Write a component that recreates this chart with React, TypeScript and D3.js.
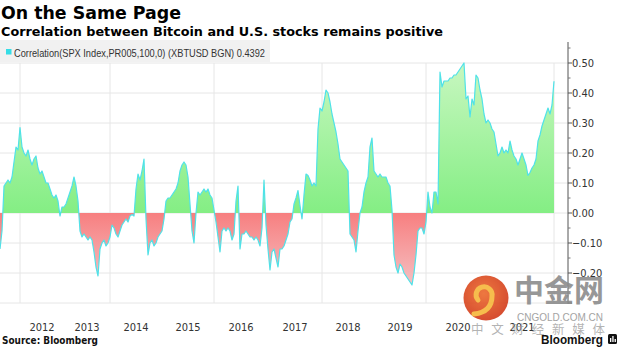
import React from "react";
import * as d3 from "d3";

// 100-day correlation, sampled evenly along the (trading-index based) x axis, grouped by calendar year
const corr2011 = [-0.12, -0.06, 0.09, 0.1, 0.11, 0.1, 0.12, 0.17, 0.22, 0.21];
const corr2012 = [0.285, 0.22, 0.2, 0.19, 0.21, 0.18, 0.16, 0.18, 0.19, 0.15, 0.13, 0.14, 0.12, 0.1, 0.1, 0.08, 0.06, 0.05, 0.06, 0.04, -0.01, 0.02];
const corr2013 = [0.02, 0.03, 0.05, 0.07, 0.09, 0.12, 0.09, 0.04, -0.06, -0.08, -0.07, -0.08, -0.09, -0.08, -0.09, -0.13, -0.18, -0.21, -0.12, -0.1, -0.09, -0.11, -0.1];
const corr2014 = [-0.08, -0.04, -0.05, -0.07, -0.08, -0.06, -0.04, -0.03, -0.02, -0.03, -0.01, -0.005, -0.01, 0.08, 0.13, 0.11, 0.14, 0.18, -0.02, -0.14, -0.1, -0.09, -0.11, -0.1, -0.08, -0.07];
const corr2015 = [-0.06, -0.02, 0.04, 0.05, 0.05, 0.06, 0.07, 0.08, 0.1, 0.14, 0.16, 0.17, 0.16, 0.12, 0.03, -0.06, -0.1, 0.0, 0.07, 0.06, 0.07, 0.08, 0.07, 0.08, 0.06, 0.05];
const corr2016 = [0.01, -0.03, -0.08, -0.13, -0.06, -0.05, -0.06, -0.05, -0.06, -0.09, -0.07, 0.04, 0.09, -0.12, -0.07, -0.07, -0.06, -0.07, -0.08, -0.08, -0.09, -0.08, -0.09, -0.11, -0.05, 0.11, -0.04];
const corr2017 = [-0.12, -0.19, -0.13, -0.12, -0.15, -0.18, -0.12, -0.12, -0.11, -0.09, -0.07, -0.03, -0.02, 0.03, 0.05, 0.075, 0.025, -0.02, 0.06, 0.13, 0.125, 0.11, 0.09, 0.1, 0.09, 0.28, 0.35];
const corr2018 = [0.34, 0.37, 0.41, 0.4, 0.37, 0.33, 0.3, 0.27, 0.23, 0.18, 0.17, 0.16, 0.15, 0.14, -0.07, -0.08, -0.09, -0.13, -0.06, 0.0, 0.02, 0.07, 0.1, 0.12, 0.22, 0.25];
const corr2019 = [0.14, 0.13, 0.12, 0.13, 0.12, 0.12, 0.12, 0.1, 0.09, 0.01, -0.14, -0.18, -0.2, -0.17, -0.18, -0.2, -0.21, -0.22, -0.23, -0.24, -0.2, -0.14, -0.06, -0.05, -0.05, -0.07];
const corr2020 = [-0.03, 0.07, 0.02, 0.0, 0.07, 0.07, 0.03, 0.47, 0.42, 0.44, 0.44, 0.44, 0.45, 0.45, 0.46, 0.46, 0.47, 0.48, 0.49, 0.5, 0.38, 0.39, 0.32, 0.38, 0.36, 0.46, 0.45, 0.41, 0.38, 0.33, 0.3, 0.31];
const corr2021 = [0.3, 0.28, 0.27, 0.23, 0.19, 0.2, 0.22, 0.2, 0.21, 0.2, 0.24, 0.21, 0.19, 0.18, 0.16, 0.18, 0.2, 0.18, 0.16, 0.125, 0.135, 0.15, 0.16, 0.18, 0.24, 0.26, 0.29, 0.31, 0.33, 0.35, 0.33, 0.36, 0.4392];

const yearSeries = [corr2011, corr2012, corr2013, corr2014, corr2015, corr2016, corr2017, corr2018, corr2019, corr2020, corr2021];
const seriesYears = [2011, 2012, 2013, 2014, 2015, 2016, 2017, 2018, 2019, 2020, 2021];
const labelYears = ["2012", "2013", "2014", "2015", "2016", "2017", "2018", "2019", "2020", "2021"];
const gridYears = [2012, 2014, 2016, 2018, 2020, 2022];
const yTickValues = [-0.3, -0.2, -0.1, 0.0, 0.1, 0.2, 0.3, 0.4, 0.5];
const yLabelValues = [-0.2, -0.1, 0.0, 0.1, 0.2, 0.3, 0.4, 0.5];
const yMinorValues = [-0.25, -0.15, -0.05, 0.05, 0.15, 0.25, 0.35, 0.45, 0.55];

const title = "On the Same Page";
const subtitle = "Correlation between Bitcoin and U.S. stocks remains positive";
const legendText = "Correlation(SPX Index,PR005,100,0) (XBTUSD BGN) 0.4392";
const sourceText = "Source: Bloomberg";

const W = 620;
const H = 348;
const PLOT_RIGHT = 568;
const AXIS_FONT = "'DejaVu Sans Condensed', 'Liberation Sans', sans-serif";
const BOLD_FONT = "'DejaVu Sans', Verdana, sans-serif";

export default function App() {
  const data: number[] = yearSeries.flat();
  // start index of each year in the series
  const yearStart = new Map<number, number>();
  let acc = 0;
  yearSeries.forEach((arr, k) => {
    yearStart.set(seriesYears[k], acc);
    acc += arr.length;
  });
  const lastIdx = data.length - 1;
  yearStart.set(2022, lastIdx);

  const x = d3.scaleLinear().domain([0, lastIdx + 7]).range([0, PLOT_RIGHT]);
  const y = d3.scaleLinear().domain([-0.3, 0.5]).range([303, 63]);

  const area = d3
    .area<number>()
    .x((_, i) => x(i))
    .y0(y(0))
    .y1((d) => y(d));
  const line = d3
    .line<number>()
    .x((_, i) => x(i))
    .y((d) => y(d));

  const fmt = d3.format(".2f");
  const y0 = y(0);

  const labelPos = labelYears.map((yr) => {
    const s = yearStart.get(+yr)!;
    const e = yearStart.get(+yr + 1)!;
    return { yr, cx: x((s + e) / 2) };
  });

  return (
    <svg
      width={W}
      height={H}
      style={{ position: "absolute", left: 0, top: 0, background: "#fff" }}
    >
      <defs>
        <linearGradient id="gGreen" gradientUnits="userSpaceOnUse" x1={0} y1={y(0.5)} x2={0} y2={y0}>
          <stop offset="0" stopColor="#c8f7c0" />
          <stop offset="1" stopColor="#84ee84" />
        </linearGradient>
        <linearGradient id="gRed" gradientUnits="userSpaceOnUse" x1={0} y1={y0} x2={0} y2={y(-0.25)}>
          <stop offset="0" stopColor="#f77f80" />
          <stop offset="1" stopColor="#f5c2c4" />
        </linearGradient>
        <clipPath id="clipPos">
          <rect x={0} y={0} width={W} height={y0} />
        </clipPath>
        <clipPath id="clipNeg">
          <rect x={0} y={y0} width={W} height={H - y0} />
        </clipPath>
        <radialGradient id="gLogo" cx="0.45" cy="0.4" r="0.6">
          <stop offset="0" stopColor="#ec6a2c" />
          <stop offset="1" stopColor="#d23a1a" />
        </radialGradient>
      </defs>

      {/* title */}
      <text x={1} y={19} fontFamily={BOLD_FONT} fontWeight="bold" fontSize={17.5} fill="#000" textLength={180} lengthAdjust="spacingAndGlyphs">
        {title}
      </text>
      <text x={1} y={36} fontFamily={BOLD_FONT} fontWeight="bold" fontSize={13} fill="#000" textLength={442} lengthAdjust="spacingAndGlyphs">
        {subtitle}
      </text>

      {/* horizontal gridlines */}
      {yTickValues.map((v) => (
        <line key={"h" + v} x1={0} x2={PLOT_RIGHT} y1={y(v)} y2={y(v)} stroke="#e6e6e6" strokeWidth={1} />
      ))}
      {/* vertical gridlines */}
      {gridYears.map((yr) => (
        <line
          key={"v" + yr}
          x1={x(yearStart.get(yr)!)}
          x2={x(yearStart.get(yr)!)}
          y1={y(0.5)}
          y2={y(-0.3)}
          stroke="#e6e6e6"
          strokeWidth={1}
        />
      ))}

      {/* legend */}
      <rect x={0} y={40} width={270} height={22} fill="#f1f1f1" />
      <rect x={6} y={49} width={5.5} height={5.5} fill="#35dde6" />
      <text x={14} y={57} fontFamily="'Liberation Sans Narrow', 'Liberation Sans', sans-serif" fontSize={11.5} fill="#333" textLength={251} lengthAdjust="spacingAndGlyphs">
        {legendText}
      </text>

      {/* areas */}
      <path d={area(data) || ""} fill="url(#gGreen)" clipPath="url(#clipPos)" />
      <path d={area(data) || ""} fill="url(#gRed)" clipPath="url(#clipNeg)" />
      <path d={line(data) || ""} fill="none" stroke="#4fe2e8" strokeWidth={1.2} strokeLinejoin="round" />

      {/* right axis */}
      <line x1={PLOT_RIGHT} x2={PLOT_RIGHT} y1={y(0.57)} y2={y(-0.3) + 1} stroke="#555" strokeWidth={1} />
      {yTickValues.map((v) => (
        <line key={"t" + v} x1={PLOT_RIGHT} x2={PLOT_RIGHT + 4} y1={y(v)} y2={y(v)} stroke="#555" strokeWidth={1} />
      ))}
      {yMinorValues.map((v) => (
        <line key={"m" + v} x1={PLOT_RIGHT} x2={PLOT_RIGHT + 2.5} y1={y(v)} y2={y(v)} stroke="#777" strokeWidth={1} />
      ))}
      {yLabelValues.map((v) => (
        <text key={"l" + v} x={PLOT_RIGHT + 4} y={y(v) + 4} fontFamily={AXIS_FONT} fontSize={11} fill="#333">
          {fmt(v)}
        </text>
      ))}

      {/* year labels */}
      {labelPos.map((p) => (
        <text key={p.yr} x={p.cx} y={331} textAnchor="middle" fontFamily={AXIS_FONT} fontSize={11} fill="#333">
          {p.yr}
        </text>
      ))}

      {/* footer */}
      <text x={2} y={344} fontFamily={BOLD_FONT} fontWeight="bold" fontSize={10.5} fill="#111" textLength={96} lengthAdjust="spacingAndGlyphs">
        {sourceText}
      </text>

      {/* watermark */}
      <g opacity={0.9}>
        <circle cx={486} cy={298} r={22.5} fill="url(#gLogo)" />
        <path d="M 478 300 A 8 8 0 1 1 492 296 Q 492 312 474 314" fill="none" stroke="#f6b63a" strokeWidth={5} strokeLinecap="round" />
        <text x={514} y={301} fontFamily="'Noto Sans CJK SC', sans-serif" fontWeight="bold" fontSize={30} fill="#8c8c8c" letterSpacing={0}>
          中金网
        </text>
        <text x={517} y={321} fontFamily="'Liberation Sans', sans-serif" fontSize={10.5} fill="#9a9a9a" textLength={86} lengthAdjust="spacingAndGlyphs">
          CNGOLD.COM.CN
        </text>
      </g>
      <text x={471} y={334} fontFamily="'Noto Sans CJK SC', sans-serif" fontSize={12.5} fill="#9a9a9a" fillOpacity={0.75} textLength={134} lengthAdjust="spacing">
        中文财经新媒体
      </text>
      <text x={541} y={344} fontFamily="'Liberation Sans', Arial, sans-serif" fontWeight="bold" fontSize={13} fill="#111" textLength={62} lengthAdjust="spacingAndGlyphs">
        Bloomberg
      </text>
      <rect x={608} y={334} width={9} height={10} rx={1.5} fill="#111" />
      <rect x={610} y={338} width={1.3} height={4} fill="#fff" />
      <rect x={612.3} y={336} width={1.3} height={6} fill="#fff" />
      <rect x={614.6} y={339} width={1.3} height={3} fill="#fff" />
    </svg>
  );
}
